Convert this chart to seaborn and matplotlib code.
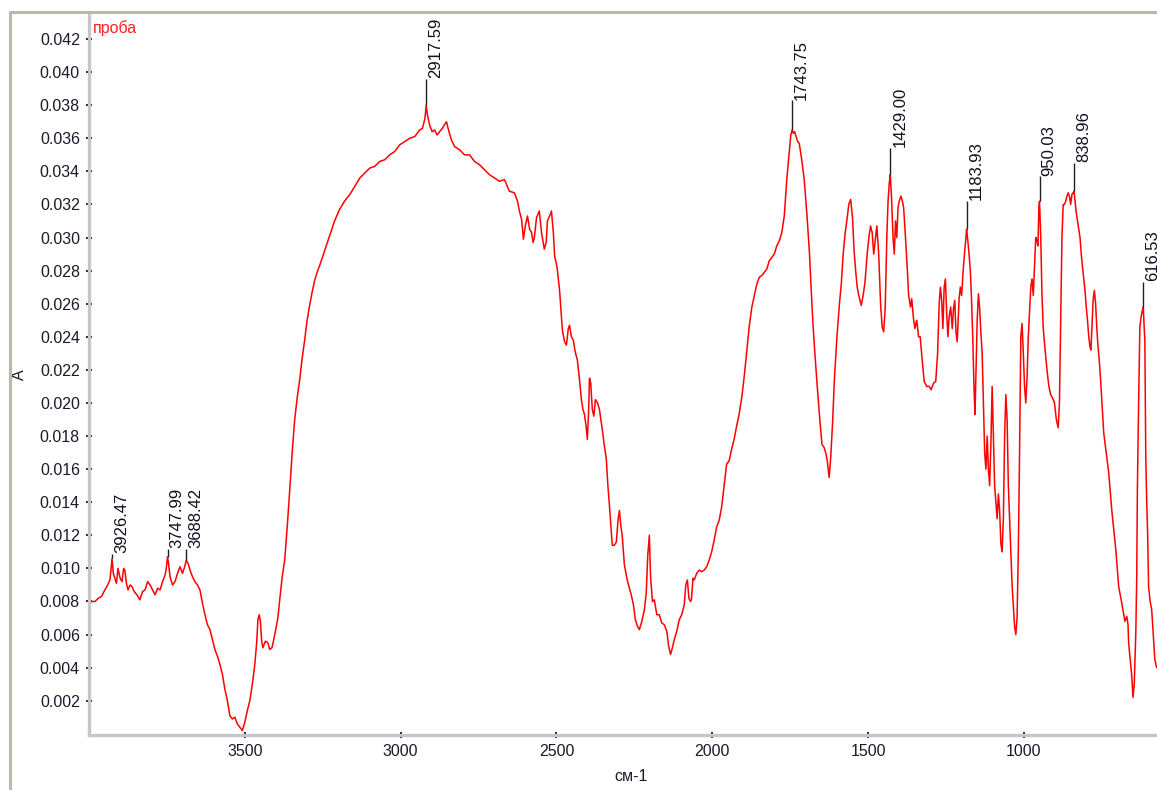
import numpy as np
import pandas as pd
import matplotlib
matplotlib.use("Agg")
import matplotlib.pyplot as plt
import seaborn as sns
from matplotlib.lines import Line2D
from matplotlib.ticker import MultipleLocator, FixedLocator, FormatStrFormatter

# ---------------- data ----------------
wavenumber = [
    4000, 3990, 3981, 3970, 3960, 3949, 3940, 3933, 3929, 3926, 3922, 3917, 3912, 3907, 3900,
    3894, 3889, 3885, 3880, 3875, 3868, 3862, 3855, 3846, 3837, 3828, 3820, 3812, 3804, 3796,
    3788, 3780, 3772, 3764, 3756, 3752, 3748, 3744, 3740, 3732, 3724, 3716, 3708, 3700, 3693,
    3688, 3682, 3676, 3668, 3660, 3652, 3644, 3636, 3628, 3620, 3612, 3604, 3596, 3588, 3580,
    3572, 3564, 3556, 3548, 3540, 3532, 3524, 3516, 3508, 3500, 3492, 3484, 3476, 3468, 3462,
    3458, 3454, 3450, 3446, 3442, 3434, 3426, 3420, 3413, 3406, 3401, 3394, 3388, 3380, 3372,
    3364, 3356, 3348, 3340, 3332, 3324, 3316, 3308, 3300, 3292, 3284, 3276, 3268, 3260, 3244,
    3228, 3212, 3196, 3180, 3163, 3147, 3131, 3115, 3099, 3083, 3067, 3051, 3035, 3019, 3003,
    2987, 2971, 2955, 2939, 2930, 2922, 2918, 2914, 2907, 2899, 2891, 2883, 2875, 2866, 2860,
    2853, 2845, 2837, 2827, 2811, 2795, 2779, 2763, 2747, 2731, 2715, 2699, 2683, 2667, 2651,
    2635, 2625, 2619, 2612, 2606, 2600, 2593, 2586, 2580, 2575, 2571, 2564, 2555, 2548, 2539,
    2533, 2529, 2522, 2516, 2510, 2506, 2498, 2490, 2481, 2474, 2468, 2462, 2458, 2452, 2446,
    2440, 2433, 2426, 2420, 2415, 2410, 2405, 2401, 2397, 2394, 2390, 2385, 2380, 2375, 2368,
    2362, 2353, 2347, 2340, 2335, 2330, 2325, 2321, 2314, 2308, 2302, 2298, 2293, 2289, 2282,
    2273, 2266, 2260, 2253, 2247, 2240, 2234, 2226, 2218, 2212, 2207, 2202, 2198, 2192, 2186,
    2178, 2170, 2162, 2154, 2146, 2140, 2134, 2128, 2122, 2114, 2106, 2098, 2090, 2085, 2080,
    2075, 2070, 2067, 2062, 2058, 2050, 2042, 2034, 2026, 2018, 2010, 2002, 1994, 1986, 1978,
    1970, 1962, 1954, 1946, 1938, 1930, 1922, 1914, 1905, 1897, 1889, 1881, 1873, 1865, 1857,
    1849, 1841, 1833, 1825, 1817, 1809, 1801, 1793, 1785, 1777, 1769, 1761, 1753, 1748, 1744,
    1740, 1736, 1731, 1726, 1721, 1713, 1705, 1696, 1688, 1683, 1677, 1673, 1664, 1655, 1648,
    1641, 1636, 1631, 1625, 1620, 1614, 1608, 1600, 1592, 1586, 1580, 1574, 1567, 1562, 1556,
    1550, 1545, 1540, 1535, 1530, 1522, 1516, 1510, 1503, 1497, 1492, 1487, 1482, 1478, 1472,
    1466, 1460, 1455, 1450, 1445, 1440, 1436, 1432, 1429, 1425, 1420, 1416, 1412, 1408, 1404,
    1400, 1395, 1390, 1386, 1380, 1374, 1370, 1364, 1360, 1355, 1350, 1344, 1338, 1333, 1326,
    1320, 1312, 1304, 1298, 1290, 1283, 1277, 1272, 1268, 1264, 1260, 1256, 1252, 1248, 1244,
    1240, 1235, 1230, 1226, 1222, 1218, 1214, 1208, 1204, 1200, 1195, 1190, 1186, 1184, 1180,
    1176, 1172, 1168, 1164, 1160, 1157, 1154, 1150, 1146, 1142, 1138, 1134, 1130, 1126, 1122,
    1118, 1114, 1110, 1106, 1102, 1098, 1094, 1090, 1086, 1082, 1078, 1074, 1070, 1066, 1062,
    1058, 1054, 1050, 1046, 1042, 1038, 1034, 1030, 1026, 1022, 1018, 1014, 1010, 1006, 1002,
    998, 994, 990, 986, 982, 978, 974, 970, 966, 962, 958, 955, 952, 950, 946,
    942, 938, 932, 926, 920, 914, 908, 902, 896, 890, 886, 882, 878, 874, 870,
    866, 862, 858, 854, 850, 846, 842, 839, 836, 832, 828, 824, 820, 816, 812,
    808, 804, 800, 796, 792, 788, 785, 782, 778, 774, 770, 766, 763, 758, 754,
    749, 744, 736, 728, 718, 705, 696, 686, 676, 670, 666, 664, 658, 654, 650,
    646, 641, 638, 636, 632, 628, 624, 620, 617, 614, 612, 609, 606, 603, 600,
    595, 590, 585, 580, 574,
]
absorbance = [
    0.0079, 0.0080, 0.0080, 0.0082, 0.0083, 0.0087, 0.0090, 0.0093, 0.0100, 0.0106, 0.0097, 0.0094, 0.0091, 0.0100, 0.0094,
    0.0092, 0.0100, 0.0099, 0.0091, 0.0087, 0.0090, 0.0089, 0.0086, 0.0084, 0.0081, 0.0086, 0.0087, 0.0092, 0.0090, 0.0087,
    0.0084, 0.0088, 0.0087, 0.0092, 0.0096, 0.0100, 0.0107, 0.0102, 0.0095, 0.0090, 0.0092, 0.0097, 0.0101, 0.0097, 0.0101,
    0.0105, 0.0103, 0.0099, 0.0095, 0.0092, 0.0090, 0.0087, 0.0079, 0.0072, 0.0066, 0.0063, 0.0057, 0.0051, 0.0047, 0.0042,
    0.0036, 0.0027, 0.0020, 0.0011, 0.0009, 0.0010, 0.0006, 0.0004, 0.0002, 0.0007, 0.0014, 0.0020, 0.0030, 0.0042, 0.0055,
    0.0069, 0.0072, 0.0068, 0.0056, 0.0052, 0.0056, 0.0055, 0.0051, 0.0052, 0.0058, 0.0063, 0.0070, 0.0081, 0.0095, 0.0105,
    0.0125, 0.0147, 0.0170, 0.0190, 0.0203, 0.0214, 0.0227, 0.0238, 0.0250, 0.0259, 0.0267, 0.0274, 0.0279, 0.0283, 0.0292,
    0.0301, 0.0310, 0.0317, 0.0322, 0.0326, 0.0331, 0.0336, 0.0339, 0.0342, 0.0343, 0.0346, 0.0347, 0.0350, 0.0352, 0.0356,
    0.0358, 0.0360, 0.0361, 0.0365, 0.0366, 0.0372, 0.0380, 0.0374, 0.0368, 0.0364, 0.0365, 0.0362, 0.0364, 0.0366, 0.0368,
    0.0370, 0.0364, 0.0359, 0.0355, 0.0353, 0.0350, 0.0350, 0.0346, 0.0344, 0.0341, 0.0338, 0.0336, 0.0334, 0.0335, 0.0328,
    0.0327, 0.0322, 0.0316, 0.0311, 0.0299, 0.0307, 0.0313, 0.0305, 0.0303, 0.0297, 0.0300, 0.0312, 0.0316, 0.0303, 0.0293,
    0.0297, 0.0310, 0.0313, 0.0316, 0.0303, 0.0289, 0.0282, 0.0268, 0.0244, 0.0237, 0.0235, 0.0245, 0.0247, 0.0240, 0.0238,
    0.0231, 0.0226, 0.0214, 0.0202, 0.0196, 0.0193, 0.0186, 0.0178, 0.0194, 0.0215, 0.0212, 0.0196, 0.0192, 0.0202, 0.0200,
    0.0196, 0.0184, 0.0175, 0.0166, 0.0150, 0.0138, 0.0125, 0.0114, 0.0114, 0.0116, 0.0130, 0.0135, 0.0125, 0.0120, 0.0102,
    0.0093, 0.0088, 0.0084, 0.0078, 0.0069, 0.0065, 0.0063, 0.0068, 0.0075, 0.0085, 0.0108, 0.0120, 0.0095, 0.0080, 0.0081,
    0.0072, 0.0072, 0.0067, 0.0066, 0.0062, 0.0053, 0.0048, 0.0052, 0.0057, 0.0062, 0.0069, 0.0072, 0.0078, 0.0090, 0.0093,
    0.0082, 0.0080, 0.0081, 0.0094, 0.0093, 0.0097, 0.0099, 0.0098, 0.0099, 0.0101, 0.0105, 0.0110, 0.0117, 0.0125, 0.0129,
    0.0137, 0.0150, 0.0163, 0.0165, 0.0172, 0.0178, 0.0186, 0.0193, 0.0204, 0.0217, 0.0232, 0.0247, 0.0258, 0.0265, 0.0272,
    0.0276, 0.0277, 0.0279, 0.0281, 0.0286, 0.0288, 0.0290, 0.0295, 0.0298, 0.0303, 0.0313, 0.0335, 0.0352, 0.0362, 0.0365,
    0.0363, 0.0364, 0.0361, 0.0358, 0.0357, 0.0347, 0.0335, 0.0313, 0.0290, 0.0270, 0.0248, 0.0236, 0.0212, 0.0190, 0.0175,
    0.0173, 0.0170, 0.0165, 0.0155, 0.0167, 0.0188, 0.0215, 0.0240, 0.0260, 0.0272, 0.0290, 0.0302, 0.0312, 0.0320, 0.0323,
    0.0312, 0.0292, 0.0280, 0.0270, 0.0265, 0.0259, 0.0265, 0.0273, 0.0290, 0.0301, 0.0307, 0.0303, 0.0290, 0.0297, 0.0307,
    0.0290, 0.0260, 0.0246, 0.0243, 0.0258, 0.0300, 0.0322, 0.0333, 0.0338, 0.0325, 0.0300, 0.0290, 0.0310, 0.0300, 0.0318,
    0.0322, 0.0325, 0.0322, 0.0318, 0.0300, 0.0280, 0.0265, 0.0258, 0.0263, 0.0252, 0.0245, 0.0250, 0.0240, 0.0240, 0.0225,
    0.0213, 0.0210, 0.0210, 0.0208, 0.0212, 0.0213, 0.0230, 0.0260, 0.0270, 0.0262, 0.0245, 0.0270, 0.0275, 0.0255, 0.0240,
    0.0252, 0.0258, 0.0245, 0.0257, 0.0262, 0.0243, 0.0237, 0.0263, 0.0270, 0.0265, 0.0280, 0.0292, 0.0300, 0.0305, 0.0298,
    0.0290, 0.0280, 0.0262, 0.0238, 0.0208, 0.0193, 0.0218, 0.0250, 0.0266, 0.0257, 0.0242, 0.0230, 0.0200, 0.0170, 0.0160,
    0.0180, 0.0160, 0.0150, 0.0175, 0.0210, 0.0180, 0.0150, 0.0140, 0.0130, 0.0145, 0.0135, 0.0115, 0.0110, 0.0130, 0.0180,
    0.0205, 0.0190, 0.0150, 0.0130, 0.0110, 0.0090, 0.0078, 0.0065, 0.0060, 0.0070, 0.0110, 0.0170, 0.0240, 0.0248, 0.0230,
    0.0210, 0.0200, 0.0215, 0.0240, 0.0255, 0.0270, 0.0275, 0.0265, 0.0283, 0.0300, 0.0298, 0.0295, 0.0318, 0.0322, 0.0300,
    0.0265, 0.0245, 0.0232, 0.0220, 0.0210, 0.0205, 0.0203, 0.0200, 0.0190, 0.0185, 0.0200, 0.0250, 0.0300, 0.0320, 0.0320,
    0.0322, 0.0325, 0.0327, 0.0325, 0.0320, 0.0326, 0.0327, 0.0328, 0.0322, 0.0315, 0.0310, 0.0305, 0.0300, 0.0290, 0.0282,
    0.0275, 0.0268, 0.0258, 0.0250, 0.0240, 0.0234, 0.0232, 0.0245, 0.0262, 0.0268, 0.0260, 0.0245, 0.0236, 0.0225, 0.0214,
    0.0198, 0.0182, 0.0170, 0.0158, 0.0135, 0.0111, 0.0089, 0.0079, 0.0068, 0.0071, 0.0066, 0.0055, 0.0043, 0.0035, 0.0022,
    0.0030, 0.0061, 0.0095, 0.0147, 0.0200, 0.0246, 0.0252, 0.0256, 0.0258, 0.0245, 0.0238, 0.0167, 0.0140, 0.0121, 0.0089,
    0.0080, 0.0075, 0.0060, 0.0045, 0.0040,
]

peak_labels = ["3926.47", "3747.99", "3688.42", "2917.59", "1743.75",
               "1429.00", "1183.93", "950.03", "838.96", "616.53"]
peak_wn = [3926.47, 3747.99, 3688.42, 2917.59, 1743.75,
           1429.00, 1183.93, 950.03, 838.96, 616.53]
peak_A = [0.0106, 0.0107, 0.0105, 0.0380, 0.0365,
          0.0338, 0.0305, 0.0322, 0.0328, 0.0258]
peak_label_A = [0.0109, 0.0112, 0.0112, 0.0396, 0.0383,
                0.0354, 0.0322, 0.0337, 0.0345, 0.0273]

x_ticks = [3500, 3000, 2500, 2000, 1500, 1000]
y_ticks = [round(0.002 * i, 3) for i in range(1, 22)]
series_name = "проба"
x_title = "см-1"
y_title = "A"

# ---------------- figure ----------------
sns.set_theme(style="white")
plt.rcParams["font.family"] = ["Liberation Sans", "DejaVu Sans"]

W, H = 1157, 790
fig = plt.figure(figsize=(W / 100, H / 100), dpi=100)
fig.patch.set_facecolor("white")
ax = fig.add_axes([89 / W, 55 / H, 1068 / W, 720 / H])
ax.set_facecolor("white")

df = pd.DataFrame({"wn": wavenumber, "A": absorbance})
sns.lineplot(data=df, x="wn", y="A", ax=ax, color="#ff0000", lw=1.1,
             estimator=None, sort=False, legend=False)

ax.set_xlim(4000, 573)
ax.set_ylim(-0.00007, 0.04345)

# peak markers
for lab, wn, a0, a1 in zip(peak_labels, peak_wn, peak_A, peak_label_A):
    ax.plot([wn, wn], [a0, a1], color="#202020", lw=1.0, solid_capstyle="butt")
    ax.annotate(lab, xy=(wn, a1), xytext=(1.5, 0.5), textcoords="offset points",
                rotation=90, ha="left", va="bottom", fontsize=12, color="#101020")

# spines
for s in ["top", "right"]:
    ax.spines[s].set_visible(False)
for s in ["left", "bottom"]:
    ax.spines[s].set_color("#c6c6c6")
    ax.spines[s].set_linewidth(2.4)

ax.xaxis.set_major_locator(FixedLocator(x_ticks))
ax.xaxis.set_minor_locator(MultipleLocator(100))
ax.yaxis.set_major_locator(FixedLocator(y_ticks))
ax.yaxis.set_minor_locator(MultipleLocator(0.0004))
ax.yaxis.set_major_formatter(FormatStrFormatter("%.3f"))

ax.tick_params(axis="both", which="major", direction="inout", length=5, width=1.2,
               color="black", labelsize=11.5, labelcolor="#1a1a2a")
ax.tick_params(axis="x", which="major", pad=4)
ax.tick_params(axis="y", which="major", pad=4)
ax.tick_params(axis="both", which="minor", direction="inout", length=2, width=1.3,
               color="black")
ax.tick_params(bottom=True, left=True, which="both")

ax.set_xlabel(x_title, fontsize=11.5, color="#1a1a2a")
ax.set_ylabel(y_title, fontsize=11.5, color="#1a1a2a")
ax.xaxis.set_label_coords(0.508, -0.047)
ax.yaxis.set_label_coords(-0.058, 0.5)

ax.text(0.004, 0.993, series_name, transform=ax.transAxes, ha="left", va="top",
        fontsize=11.5, color="#ff2020")

# outer window frame
frame_c = "#bcb8ac"
fig.add_artist(Line2D([10 / W, 10 / W], [0, 1 - 12 / H], transform=fig.transFigure,
                      color=frame_c, lw=2.2))
fig.add_artist(Line2D([10 / W, 1], [1 - 12 / H, 1 - 12 / H], transform=fig.transFigure,
                      color=frame_c, lw=2.2))

fig.savefig("out.png", dpi=100, facecolor="white")
